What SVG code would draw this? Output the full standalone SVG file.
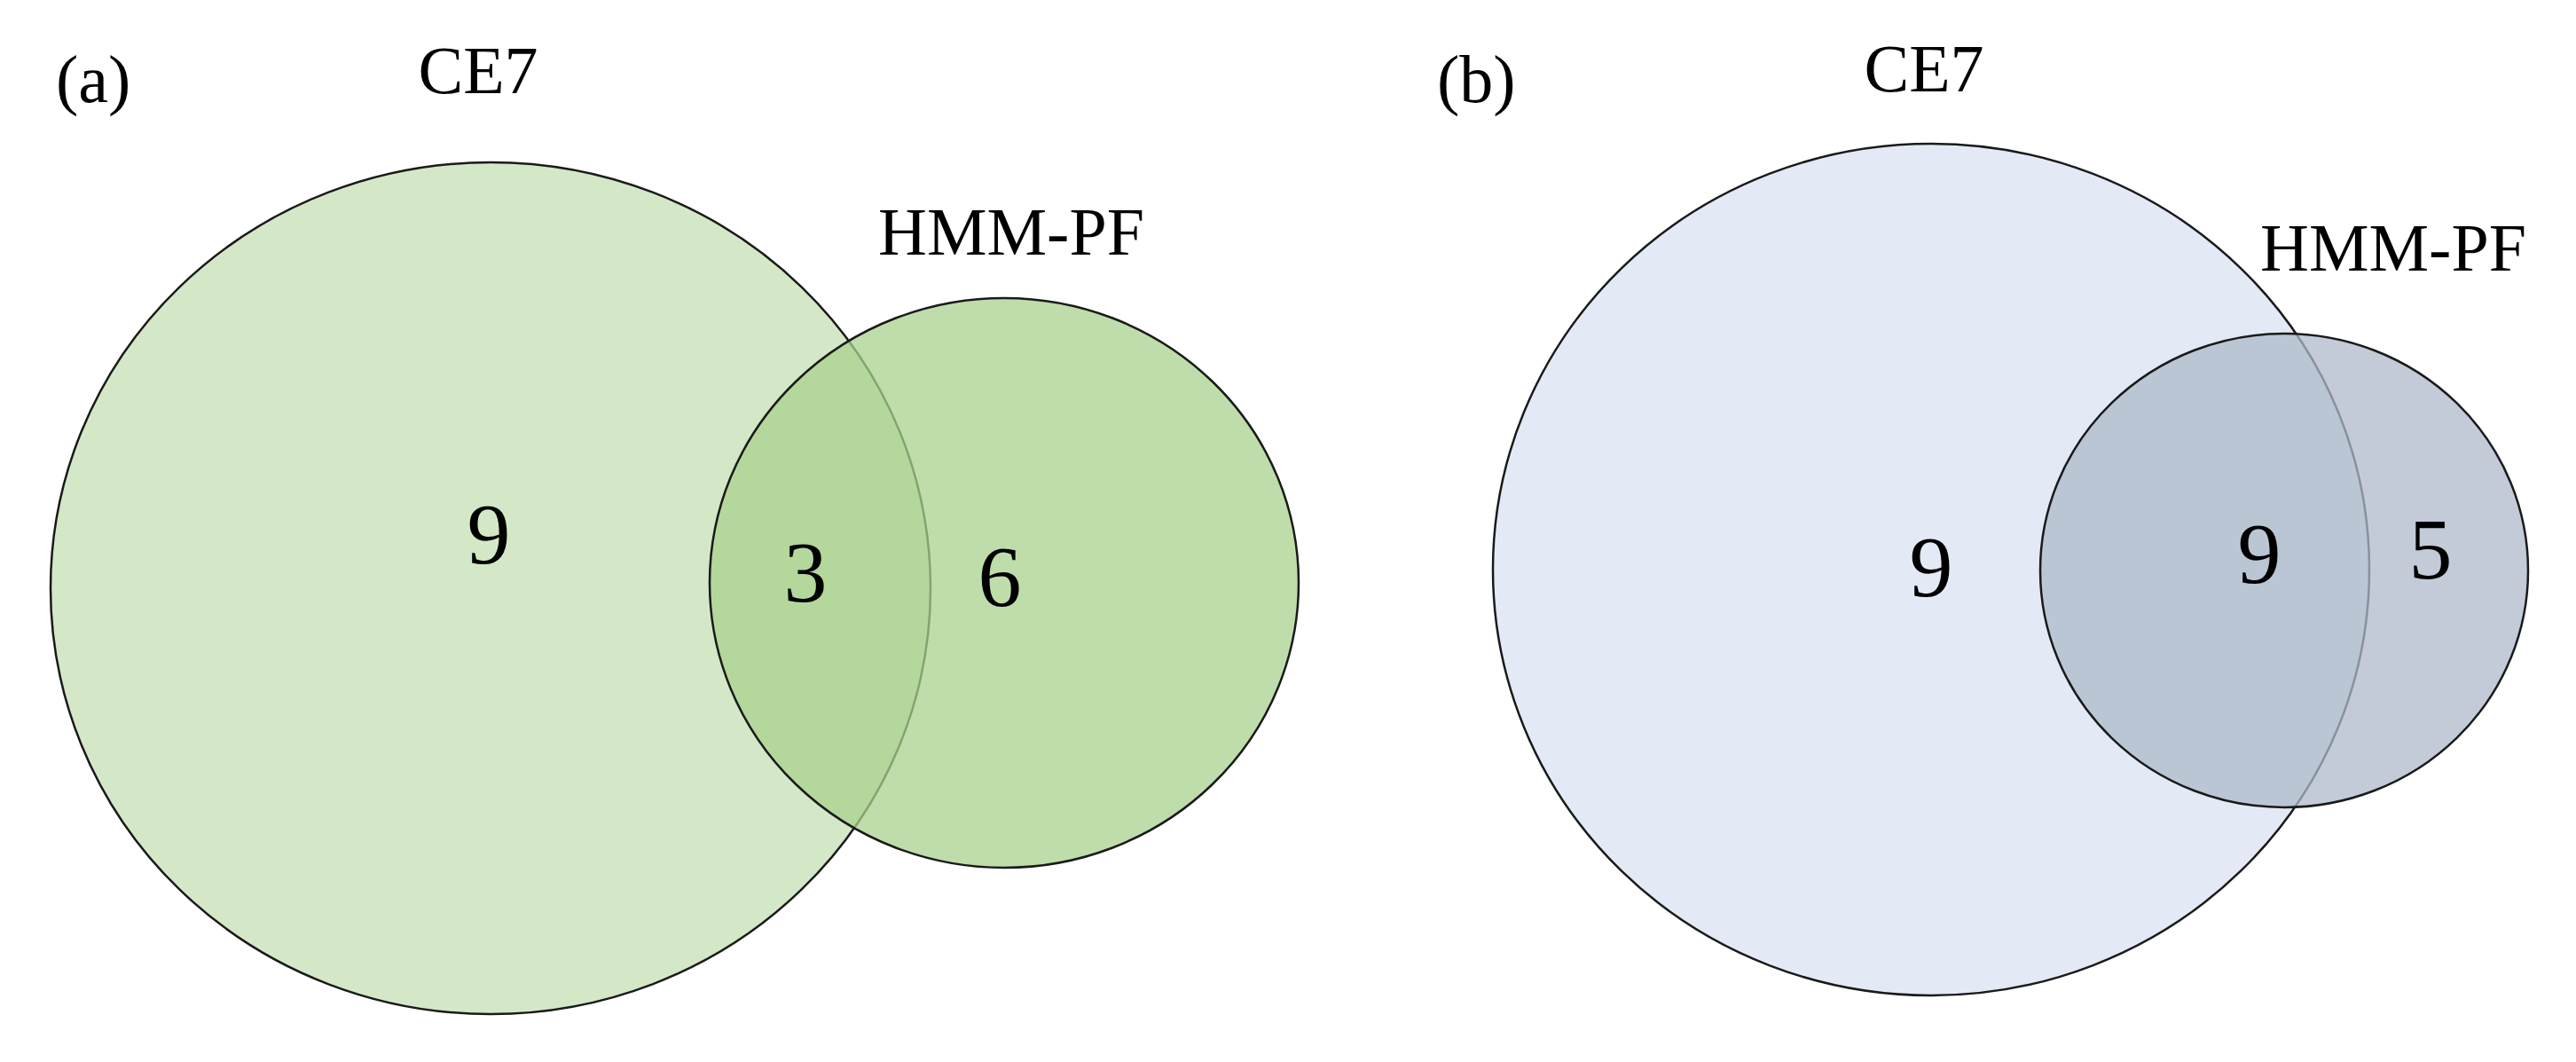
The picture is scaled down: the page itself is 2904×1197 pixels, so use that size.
<svg xmlns="http://www.w3.org/2000/svg" width="2904" height="1197" viewBox="0 0 2904 1197">
<style>
.lbl{font-family:"Liberation Serif","Times New Roman",serif;font-size:76px;fill:#000}
.num{font-family:"Liberation Serif","Times New Roman",serif;font-size:98px;fill:#000;text-anchor:middle}
.mid{text-anchor:middle}
.set{stroke:#1a1a1a;stroke-width:2.5;fill-opacity:0.75}
</style>
<rect width="2904" height="1197" fill="#ffffff"/>
<g id="panel-a">
  <text class="lbl" x="63" y="115">(a)</text>
  <g id="a-ce7">
    <ellipse class="set" cx="553" cy="663" rx="496" ry="480" fill="#c5e0b4"/>
    <text class="lbl mid" x="539" y="105">CE7</text>
  </g>
  <g id="a-hmm">
    <ellipse class="set" cx="1132" cy="657" rx="332" ry="321" fill="#a9d18e"/>
    <text class="lbl mid" x="1140" y="287">HMM-PF</text>
  </g>
  <g id="a-counts">
    <text class="num" x="551" y="635">9</text>
    <text class="num" x="908" y="678">3</text>
    <text class="num" x="1127" y="683">6</text>
  </g>
</g>
<g id="panel-b">
  <text class="lbl" x="1620" y="115">(b)</text>
  <g id="b-ce7">
    <ellipse class="set" cx="2177" cy="642" rx="494" ry="480" fill="#dae3f3"/>
    <text class="lbl mid" x="2169" y="103">CE7</text>
  </g>
  <g id="b-hmm">
    <ellipse class="set" cx="2575" cy="643" rx="275" ry="267" fill="#adb9ca"/>
    <text class="lbl mid" x="2698" y="305">HMM-PF</text>
  </g>
  <g id="b-counts">
    <text class="num" x="2177" y="672">9</text>
    <text class="num" x="2547" y="657">9</text>
    <text class="num" x="2740" y="652">5</text>
  </g>
</g>
<g id="connectors"></g>
</svg>
